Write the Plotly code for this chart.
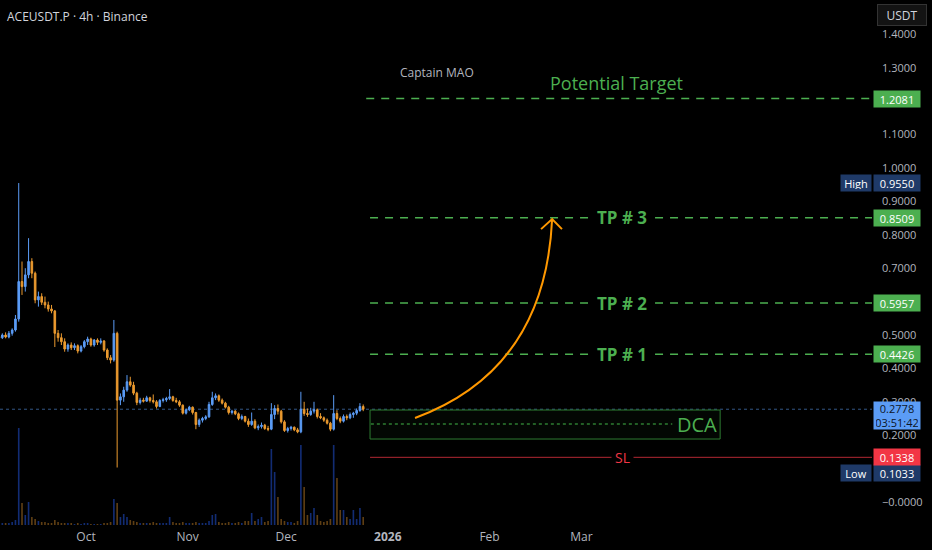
import pandas as pd
import plotly.graph_objects as go

# daily candles (ACEUSDT.P, Binance)
dates = pd.date_range("2025-09-04 12:00", periods=112, freq="D")

open_px = [0.495, 0.492, 0.500, 0.494, 0.505, 0.515, 0.548, 0.660, 0.645, 0.680,
           0.720, 0.685, 0.605, 0.615, 0.598, 0.590, 0.578, 0.572, 0.505, 0.492,
           0.480, 0.458, 0.470, 0.462, 0.468, 0.452, 0.465, 0.480, 0.488, 0.470,
           0.485, 0.478, 0.482, 0.455, 0.432, 0.425, 0.505, 0.305, 0.315, 0.335,
           0.360, 0.350, 0.326, 0.298, 0.305, 0.302, 0.312, 0.304, 0.300, 0.286,
           0.304, 0.306, 0.310, 0.315, 0.304, 0.300, 0.290, 0.266, 0.276, 0.284,
           0.268, 0.232, 0.245, 0.250, 0.255, 0.292, 0.312, 0.318, 0.305, 0.296,
           0.284, 0.268, 0.272, 0.264, 0.250, 0.256, 0.242, 0.232, 0.242, 0.222,
           0.226, 0.230, 0.220, 0.218, 0.262, 0.280, 0.272, 0.240, 0.214, 0.220,
           0.224, 0.216, 0.210, 0.278, 0.265, 0.262, 0.272, 0.276, 0.256, 0.252,
           0.245, 0.236, 0.218, 0.265, 0.250, 0.242, 0.256, 0.252, 0.262, 0.266,
           0.274, 0.286]
high_px = [0.505, 0.505, 0.508, 0.512, 0.520, 0.560, 0.955, 0.720, 0.700, 0.790,
           0.730, 0.690, 0.630, 0.625, 0.615, 0.600, 0.590, 0.575, 0.515, 0.505,
           0.490, 0.475, 0.478, 0.475, 0.472, 0.470, 0.485, 0.495, 0.492, 0.488,
           0.490, 0.490, 0.485, 0.460, 0.440, 0.545, 0.510, 0.325, 0.345, 0.380,
           0.375, 0.360, 0.330, 0.312, 0.312, 0.318, 0.315, 0.322, 0.305, 0.308,
           0.312, 0.315, 0.338, 0.318, 0.312, 0.305, 0.292, 0.280, 0.288, 0.286,
           0.270, 0.250, 0.255, 0.260, 0.300, 0.330, 0.325, 0.322, 0.310, 0.300,
           0.288, 0.276, 0.275, 0.268, 0.262, 0.258, 0.250, 0.268, 0.248, 0.232,
           0.238, 0.234, 0.228, 0.296, 0.290, 0.292, 0.276, 0.245, 0.225, 0.228,
           0.226, 0.222, 0.330, 0.300, 0.280, 0.282, 0.300, 0.280, 0.266, 0.256,
           0.250, 0.240, 0.320, 0.275, 0.256, 0.262, 0.262, 0.268, 0.270, 0.280,
           0.296, 0.292]
low_px = [0.485, 0.488, 0.490, 0.490, 0.498, 0.510, 0.540, 0.620, 0.630, 0.670,
          0.670, 0.595, 0.585, 0.590, 0.580, 0.570, 0.565, 0.464, 0.480, 0.470,
          0.450, 0.450, 0.455, 0.455, 0.445, 0.448, 0.460, 0.470, 0.465, 0.465,
          0.470, 0.472, 0.450, 0.425, 0.415, 0.420, 0.1033, 0.290, 0.300, 0.330,
          0.345, 0.320, 0.290, 0.292, 0.298, 0.300, 0.298, 0.295, 0.280, 0.284,
          0.298, 0.300, 0.305, 0.300, 0.296, 0.285, 0.262, 0.262, 0.272, 0.262,
          0.218, 0.225, 0.238, 0.245, 0.252, 0.288, 0.305, 0.300, 0.292, 0.280,
          0.262, 0.262, 0.260, 0.245, 0.245, 0.238, 0.225, 0.228, 0.218, 0.215,
          0.220, 0.216, 0.212, 0.215, 0.248, 0.262, 0.235, 0.210, 0.208, 0.214,
          0.212, 0.206, 0.206, 0.258, 0.255, 0.258, 0.265, 0.250, 0.248, 0.240,
          0.232, 0.212, 0.214, 0.245, 0.236, 0.238, 0.245, 0.248, 0.252, 0.260,
          0.270, 0.272]
close_px = [0.492, 0.500, 0.494, 0.505, 0.515, 0.548, 0.660, 0.645, 0.680, 0.720,
            0.685, 0.605, 0.615, 0.598, 0.590, 0.578, 0.572, 0.505, 0.492, 0.480,
            0.458, 0.470, 0.462, 0.468, 0.452, 0.465, 0.480, 0.488, 0.470, 0.485,
            0.478, 0.482, 0.455, 0.432, 0.425, 0.505, 0.305, 0.315, 0.335, 0.360,
            0.350, 0.326, 0.298, 0.305, 0.302, 0.312, 0.304, 0.300, 0.286, 0.304,
            0.306, 0.310, 0.315, 0.304, 0.300, 0.290, 0.266, 0.276, 0.284, 0.268,
            0.232, 0.245, 0.250, 0.255, 0.292, 0.312, 0.318, 0.305, 0.296, 0.284,
            0.268, 0.272, 0.264, 0.250, 0.256, 0.242, 0.232, 0.242, 0.222, 0.226,
            0.230, 0.220, 0.218, 0.262, 0.280, 0.272, 0.240, 0.214, 0.220, 0.224,
            0.216, 0.210, 0.278, 0.265, 0.262, 0.272, 0.276, 0.256, 0.252, 0.245,
            0.236, 0.218, 0.265, 0.250, 0.242, 0.256, 0.252, 0.262, 0.266, 0.274,
            0.286, 0.2778]
# volume in arbitrary units (as seen on the overlay)
volume = [2, 2, 2, 2, 3, 5, 97, 22, 10, 23,
          8, 6, 4, 3, 3, 2, 2, 5, 3, 2,
          2, 2, 2, 1, 2, 1, 2, 2, 1, 1,
          1, 1, 2, 2, 3, 26, 22, 8, 11, 8,
          5, 4, 3, 2, 2, 2, 2, 3, 2, 2,
          2, 2, 8, 3, 2, 2, 3, 2, 2, 2,
          3, 2, 2, 2, 4, 10, 11, 3, 2, 2,
          3, 2, 2, 3, 2, 4, 4, 12, 4, 6,
          8, 3, 4, 76, 53, 28, 6, 4, 3, 3,
          2, 4, 80, 38, 10, 12, 17, 10, 4, 3,
          4, 6, 80, 47, 15, 15, 8, 6, 15, 6,
          17, 8]

# trade plan levels
target = 1.2081
tp_levels = [0.8509, 0.5957, 0.4426]
tp_names = ["TP # 3", "TP # 2", "TP # 1"]
dca_top, dca_mid, dca_bottom = 0.2754, 0.2335, 0.1886
stop_loss = 0.1338
last_price = 0.2778
high_mark, low_mark = 0.9550, 0.1033

month_ticks = ["2025-10-01", "2025-11-01", "2025-12-01", "2026-01-01", "2026-02-01", "2026-03-01"]
month_labels = ["Oct", "Nov", "Dec", "<b>2026</b>", "Feb", "Mar"]
price_ticks = [0.0, 0.2, 0.3, 0.4, 0.5, 0.7, 0.8, 0.9, 1.0, 1.1, 1.3, 1.4]
price_labels = ["\u22120.0000", "0.2000", "0.3000", "0.4000", "0.5000", "0.7000",
                "0.8000", "0.9000", "1.0000", "1.1000", "1.3000", "1.4000"]

UP = "#5b9cf6"
DOWN = "#eb9a2f"
GREEN = "#4caf50"
RED = "#f23645"
NAVY = "#1f3a68"
X_END = "2026-05-28 14:00"
LINE_START = "2025-12-26 14:00"

fig = go.Figure()

vol_colors = ["rgba(41,98,255,0.45)" if c >= o else "rgba(235,154,47,0.4)"
              for o, c in zip(open_px, close_px)]
fig.add_trace(go.Bar(x=dates, y=volume, marker_color=vol_colors, marker_line_width=0,
                     width=0.5 * 86400000, yaxis="y2", hoverinfo="skip"))

fig.add_trace(go.Candlestick(
    x=dates, open=open_px, high=high_px, low=low_px, close=close_px,
    increasing=dict(line=dict(color=UP, width=1), fillcolor=UP),
    decreasing=dict(line=dict(color=DOWN, width=1), fillcolor=DOWN),
    whiskerwidth=0,
))

dash = "8px,7px"
shapes = []
# current price line
shapes.append(dict(type="line", xref="paper", yref="y", x0=0, x1=1, y0=last_price, y1=last_price,
                   line=dict(color="rgba(91,156,246,0.55)", width=1, dash="dot"), layer="below"))
# potential target
shapes.append(dict(type="line", xref="x", yref="y", x0="2025-12-25 10:00", x1=X_END,
                   y0=target, y1=target, line=dict(color=GREEN, width=1.5, dash=dash)))
for lvl in tp_levels:
    shapes.append(dict(type="line", xref="x", yref="y", x0=LINE_START, x1=X_END,
                       y0=lvl, y1=lvl, line=dict(color=GREEN, width=1.5, dash=dash)))
# DCA zone
shapes.append(dict(type="rect", xref="x", yref="y", x0=LINE_START, x1="2026-04-12 07:00",
                   y0=dca_bottom, y1=dca_top, line=dict(color="#2e7d32", width=1),
                   fillcolor="rgba(76,175,80,0.04)"))
shapes.append(dict(type="line", xref="x", yref="y", x0="2025-12-26 20:00", x1="2026-03-28 17:00",
                   y0=dca_mid, y1=dca_mid, line=dict(color="#2e7d32", width=1.5, dash="dot")))
# stop loss
shapes.append(dict(type="line", xref="x", yref="y", x0=LINE_START, x1=X_END,
                   y0=stop_loss, y1=stop_loss, line=dict(color="#b22833", width=1)))
# orange arrow
shapes.append(dict(type="path", xref="x", yref="y",
                   path="M 2026-01-09_07:00,0.2515 Q 2026-02-17_22:00,0.395 2026-02-20_02:00,0.847",
                   line=dict(color="#ff9800", width=2)))
shapes.append(dict(type="path", xref="x", yref="y",
                   path="M 2026-02-16_17:00,0.817 L 2026-02-20_02:00,0.847 L 2026-02-23_02:00,0.817",
                   line=dict(color="#ff9800", width=2)))

FONT = "Open Sans"
ann = []
ann.append(dict(xref="paper", yref="paper", x=0, y=1, xanchor="left", yanchor="top",
                xshift=5, yshift=-6, text="ACEUSDT.P \u00b7 4h \u00b7 Binance", showarrow=False,
                font=dict(family=FONT, size=12, color="#d1d4dc")))
ann.append(dict(xref="paper", yref="paper", x=1, y=1, xanchor="left", yanchor="top",
                xshift=5, yshift=-4, text="USDT", showarrow=False, width=44, height=16,
                bgcolor="#131313", bordercolor="#333333", borderwidth=1, borderpad=2,
                font=dict(family=FONT, size=12, color="#d1d4dc")))
ann.append(dict(xref="x", yref="y", x="2026-01-16", y=1.2874, text="Captain MAO", showarrow=False,
                font=dict(family=FONT, size=12, color="#b2b5be")))
ann.append(dict(xref="x", yref="y", x="2026-03-11 14:00", y=1.2545, text="Potential Target",
                showarrow=False, font=dict(family=FONT, size=18, color=GREEN)))
for lvl, name in zip(tp_levels, tp_names):
    ann.append(dict(xref="x", yref="y", x="2026-03-13 10:00", y=lvl, text="<b>" + name + "</b>",
                    showarrow=False, bgcolor="#000000", borderpad=3,
                    font=dict(family=FONT, size=17, color=GREEN)))
ann.append(dict(xref="x", yref="y", x="2026-04-05 07:00", y=dca_mid, text="DCA", showarrow=False,
                font=dict(family=FONT, size=20, color=GREEN)))
ann.append(dict(xref="x", yref="y", x="2026-03-13 10:00", y=stop_loss, text="SL", showarrow=False,
                bgcolor="#000000", borderpad=3, font=dict(family=FONT, size=14, color=RED)))


def price_box(y, text, bg, fg="#ffffff", height=12, yanchor="middle", yshift=0, size=11):
    return dict(xref="paper", yref="y", x=1, y=y, xanchor="left", yanchor=yanchor, xshift=1,
                yshift=yshift, text=text, showarrow=False, bgcolor=bg, width=42, height=height,
                borderpad=2, font=dict(family=FONT, size=size, color=fg))


ann.append(price_box(target, "%.4f" % target, GREEN))
for lvl in tp_levels:
    ann.append(price_box(lvl, "%.4f" % lvl, GREEN))
ann.append(price_box(high_mark, "%.4f" % high_mark, NAVY))
ann.append(price_box(low_mark, "%.4f" % low_mark, NAVY, yshift=-5))
ann.append(price_box(stop_loss, "%.4f" % stop_loss, RED))
ann.append(price_box(last_price, "%.4f<br>03:51:42" % last_price, UP, fg="#0d1526",
                     height=23, yanchor="top", yshift=8))
for y, txt, shift in [(high_mark, "High", 0), (low_mark, "Low", -5)]:
    ann.append(dict(xref="paper", yref="y", x=1, y=y, xanchor="right", yanchor="middle",
                    yshift=shift, text=txt, showarrow=False, bgcolor=NAVY, width=26, height=12,
                    borderpad=2, font=dict(family=FONT, size=11, color="#ffffff")))

fig.update_layout(
    width=932, height=550,
    margin=dict(l=0, r=60, t=0, b=22),
    paper_bgcolor="#000000", plot_bgcolor="#000000",
    showlegend=False,
    font=dict(family=FONT, size=11, color="#b2b5be"),
    xaxis=dict(type="date", range=["2025-09-04 19:00", X_END], tickvals=month_ticks,
               ticktext=month_labels, showgrid=False, zeroline=False, showline=False,
               ticks="", rangeslider=dict(visible=False),
               tickfont=dict(family=FONT, size=12, color="#b2b5be")),
    yaxis=dict(side="right", range=[-0.0778, 1.503], tickvals=price_ticks, ticktext=price_labels,
               showgrid=False, zeroline=False, showline=False, ticks="", ticklabelstandoff=9,
               tickfont=dict(family=FONT, size=11, color="#b2b5be")),
    yaxis2=dict(overlaying="y", range=[-3, 525], visible=False),
    shapes=shapes,
    annotations=ann,
)

fig.write_html("out.html", config={"displayModeBar": False},
               post_script="document.body.style.margin='0';document.body.style.overflow='hidden';")
